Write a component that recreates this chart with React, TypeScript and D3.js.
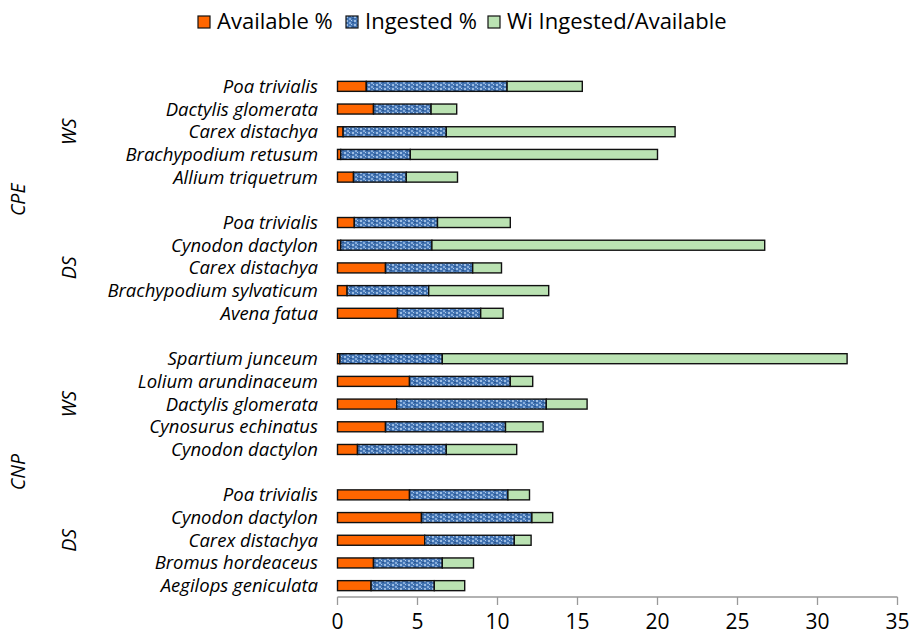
import * as d3 from 'd3';

// species per panel, top to bottom
const cpeWsSpecies = ['Poa trivialis', 'Dactylis glomerata', 'Carex distachya', 'Brachypodium retusum', 'Allium triquetrum'];
const cpeDsSpecies = ['Poa trivialis', 'Cynodon dactylon', 'Carex distachya', 'Brachypodium sylvaticum', 'Avena fatua'];
const cnpWsSpecies = ['Spartium junceum', 'Lolium arundinaceum', 'Dactylis glomerata', 'Cynosurus echinatus', 'Cynodon dactylon'];
const cnpDsSpecies = ['Poa trivialis', 'Cynodon dactylon', 'Carex distachya', 'Bromus hordeaceus', 'Aegilops geniculata'];

const cpeWsAvailable = [1.8, 2.25, 0.35, 0.2, 1.0];
const cpeWsIngested = [8.8, 3.6, 6.45, 4.35, 3.3];
const cpeWsRatio = [4.7, 1.6, 14.3, 15.45, 3.2];

const cpeDsAvailable = [1.05, 0.2, 3.0, 0.6, 3.75];
const cpeDsIngested = [5.2, 5.7, 5.45, 5.1, 5.2];
const cpeDsRatio = [4.55, 20.8, 1.8, 7.5, 1.4];

const cnpWsAvailable = [0.15, 4.5, 3.7, 3.0, 1.25];
const cnpWsIngested = [6.4, 6.3, 9.35, 7.5, 5.55];
const cnpWsRatio = [25.3, 1.4, 2.55, 2.35, 4.4];

const cnpDsAvailable = [4.5, 5.25, 5.45, 2.25, 2.1];
const cnpDsIngested = [6.15, 6.9, 5.6, 4.3, 3.95];
const cnpDsRatio = [1.35, 1.3, 1.05, 1.95, 1.9];

const seriesNames = ['Available %', 'Ingested %', 'Wi Ingested/Available'];
const xTicks = [0, 5, 10, 15, 20, 25, 30, 35];

const panels = [
  { site: 'CPE', season: 'WS', species: cpeWsSpecies, values: [cpeWsAvailable, cpeWsIngested, cpeWsRatio] },
  { site: 'CPE', season: 'DS', species: cpeDsSpecies, values: [cpeDsAvailable, cpeDsIngested, cpeDsRatio] },
  { site: 'CNP', season: 'WS', species: cnpWsSpecies, values: [cnpWsAvailable, cnpWsIngested, cnpWsRatio] },
  { site: 'CNP', season: 'DS', species: cnpDsSpecies, values: [cnpDsAvailable, cnpDsIngested, cnpDsRatio] },
];

const W = 913;
const H = 638;
const FONT = '"Open Sans", Lato, sans-serif';
const fills = ['#ff6600', 'url(#ingested)', '#bae2b2'];

export default function App() {
  // one band per species, plus an empty band between panels
  const rowKeys: string[] = [];
  panels.forEach((p, pi) => {
    if (pi > 0) rowKeys.push(`gap${pi}`);
    p.species.forEach((s) => rowKeys.push(`${pi}-${s}`));
  });

  const x = d3.scaleLinear().domain([0, 35]).range([337.5, 897.5]);
  const y = d3.scaleBand().domain(rowKeys).range([75, 597]).paddingInner(0);
  const barH = 10;
  const axisY = 597;

  const rows = panels.flatMap((p, pi) =>
    p.species.map((s, i) => {
      const vals = p.values.map((v) => v[i]);
      const ends = d3.cumsum(vals);
      return { key: `${pi}-${s}`, name: s, vals, ends: Array.from(ends) };
    })
  );

  const center = (key: string) => (y(key) ?? 0) + y.bandwidth() / 2;

  const seasonLabels = panels.map((p, pi) => {
    const first = center(`${pi}-${p.species[0]}`);
    const last = center(`${pi}-${p.species[p.species.length - 1]}`);
    return { text: p.season, cy: (first + last) / 2 };
  });
  const siteLabels = ['CPE', 'CNP'].map((site) => {
    const idx = panels.map((p, i) => (p.site === site ? i : -1)).filter((i) => i >= 0);
    const a = panels[idx[0]];
    const b = panels[idx[idx.length - 1]];
    const first = center(`${idx[0]}-${a.species[0]}`);
    const last = center(`${idx[idx.length - 1]}-${b.species[b.species.length - 1]}`);
    return { text: site, cy: (first + last) / 2 };
  });

  const legendX = [198, 346, 488];

  return (
    <svg width={W} height={H} style={{ position: 'absolute', left: 0, top: 0, background: '#fff' }} fontFamily={FONT}>
      <defs>
        <pattern id="ingested" width="8" height="4" patternUnits="userSpaceOnUse">
          <rect width="8" height="4" fill="#4374b2" />
          <rect x="0" y="0" width="2" height="2" fill="#9dbde3" />
          <rect x="3" y="2" width="2" height="2" fill="#86acdb" />
          <rect x="5" y="0" width="1" height="1" fill="#b4cdea" />
          <rect x="6" y="2" width="2" height="1" fill="#2c568f" />
        </pattern>
      </defs>

      {/* legend */}
      {seriesNames.map((name, i) => (
        <g key={name} transform={`translate(${legendX[i]},16)`}>
          <rect x={0} y={0} width={12} height={12} fill={fills[i]} stroke="#111" strokeWidth={1.2} />
          <text x={19} y={13} fontSize={22} fill="#000">{name}</text>
        </g>
      ))}

      {/* bars */}
      {rows.map((r) => {
        const cy = center(r.key);
        return (
          <g key={r.key}>
            {r.vals.map((v, si) => {
              const x0 = si === 0 ? x(0) : x(r.ends[si - 1]);
              return (
                <rect
                  key={si}
                  x={x0}
                  y={cy - barH / 2}
                  width={x(r.ends[si]) - x0}
                  height={barH}
                  fill={fills[si]}
                  stroke="#111"
                  strokeWidth={1.4}
                />
              );
            })}
            <text x={318} y={cy} dy="0.35em" textAnchor="end" fontSize={18.5} fontStyle="italic" fill="#000">
              {r.name}
            </text>
          </g>
        );
      })}

      {/* season and site labels */}
      {seasonLabels.map((l, i) => (
        <text key={i} transform={`translate(76,${l.cy}) rotate(-90)`} textAnchor="middle" fontSize={19.5} fontStyle="italic">
          {l.text}
        </text>
      ))}
      {siteLabels.map((l, i) => (
        <text key={i} transform={`translate(25,${l.cy}) rotate(-90)`} textAnchor="middle" fontSize={19.5} fontStyle="italic">
          {l.text}
        </text>
      ))}

      {/* x axis */}
      <line x1={x(0)} x2={x(35)} y1={axisY} y2={axisY} stroke="#999" strokeWidth={1.3} />
      {xTicks.map((t) => (
        <g key={t} transform={`translate(${x(t)},${axisY})`}>
          <line y1={0} y2={8} stroke="#999" strokeWidth={1.3} />
          <text y={32} textAnchor="middle" fontSize={21} fill="#000">{t}</text>
        </g>
      ))}
    </svg>
  );
}
